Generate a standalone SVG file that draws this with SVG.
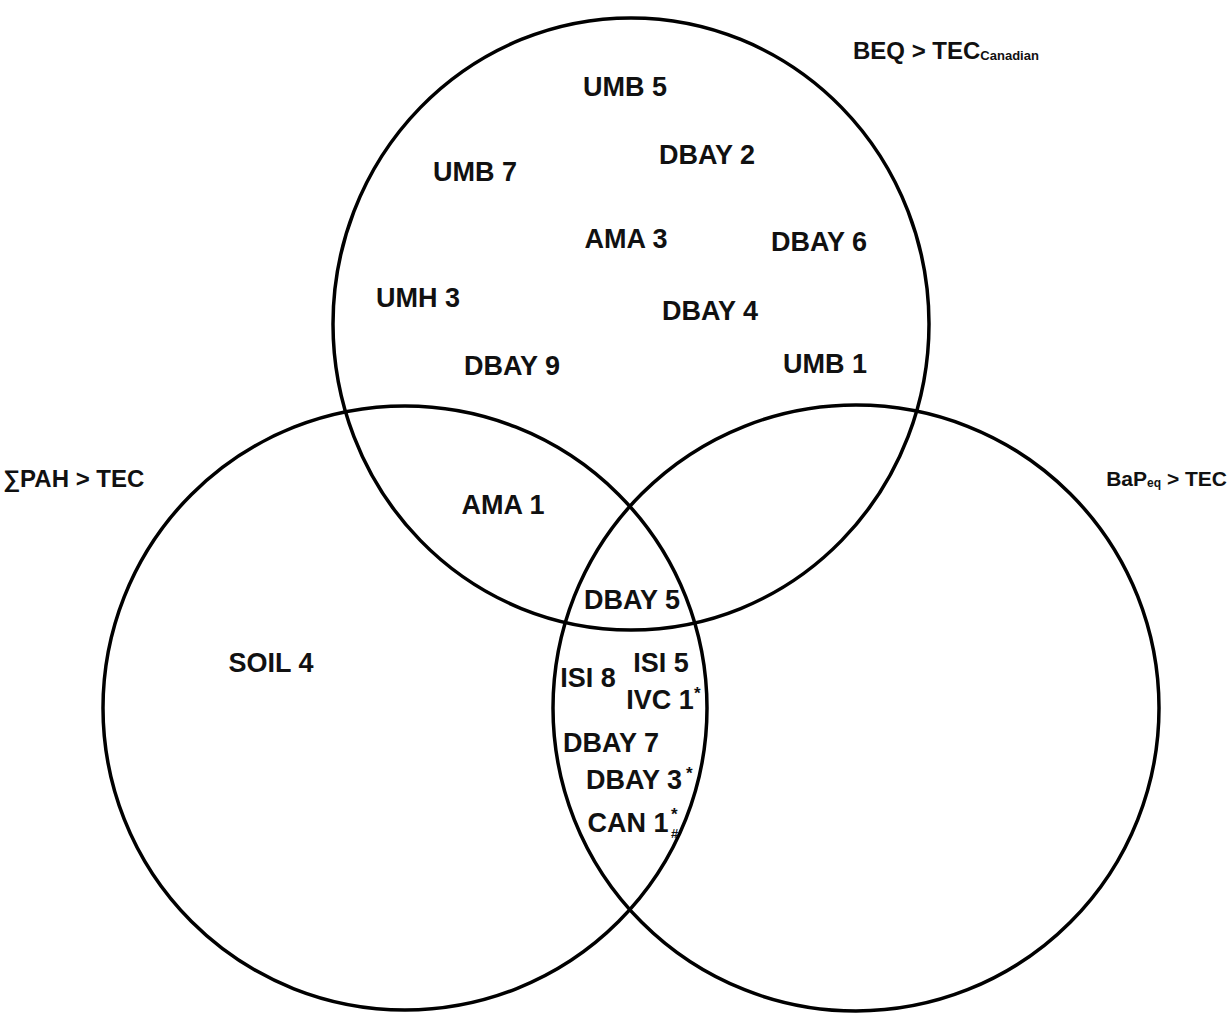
<svg xmlns="http://www.w3.org/2000/svg" width="1231" height="1017" viewBox="0 0 1231 1017">
<style>
.c{fill:none;stroke:#000;stroke-width:3.5}
.t{font-family:"Liberation Sans",Arial,sans-serif;font-weight:bold;font-size:27px;fill:#111;text-anchor:middle}
.h{font-family:"Liberation Sans",Arial,sans-serif;font-weight:bold;font-size:24px;fill:#111}
.s{font-family:"Liberation Sans",Arial,sans-serif;font-weight:bold;font-size:17px;fill:#111}
.sub{font-family:"Liberation Sans",Arial,sans-serif;font-size:13px;fill:#111}
</style>
<rect width="1231" height="1017" fill="#fff"/>
<g id="set-beq">
<ellipse class="c" cx="631" cy="324" rx="298" ry="306"/>
<text class="h" x="853" y="59">BEQ &gt; TEC<tspan class="sub" dy="1">Canadian</tspan></text>
</g>
<g id="set-pah">
<circle class="c" cx="405" cy="708" r="302"/>
<text class="h" x="3" y="487">∑PAH &gt; TEC</text>
</g>
<g id="set-bap">
<circle class="c" cx="856" cy="708" r="303"/>
<text class="h" x="1227" y="486" text-anchor="end" style="font-size:21px">BaP<tspan class="sub" style="font-weight:bold;font-size:12px" dy="1">eq</tspan><tspan dy="-1"> &gt; TEC</tspan></text>
</g>
<g id="labels">
<text class="t" x="625" y="96">UMB 5</text>
<text class="t" x="707" y="164">DBAY 2</text>
<text class="t" x="475" y="181">UMB 7</text>
<text class="t" x="626" y="248">AMA 3</text>
<text class="t" x="819" y="251">DBAY 6</text>
<text class="t" x="418" y="307">UMH 3</text>
<text class="t" x="710" y="320">DBAY 4</text>
<text class="t" x="512" y="375">DBAY 9</text>
<text class="t" x="825" y="373">UMB 1</text>
<text class="t" x="503" y="514">AMA 1</text>
<text class="t" x="632" y="609">DBAY 5</text>
<text class="t" x="271" y="672">SOIL 4</text>
<text class="t" x="588" y="687">ISI 8</text>
<text class="t" x="661" y="672">ISI 5</text>
<text class="t" x="660" y="709">IVC 1</text>
<text class="s" x="694" y="699">*</text>
<text class="t" x="634" y="789">DBAY 3</text>
<text class="s" x="686" y="779">*</text>
<text class="t" x="611" y="752">DBAY 7</text>
<text class="t" x="628" y="832">CAN 1</text>
<text class="s" x="671" y="820">*</text>
<text class="sub" x="671" y="838" style="font-weight:bold">#</text>
</g>
</svg>
